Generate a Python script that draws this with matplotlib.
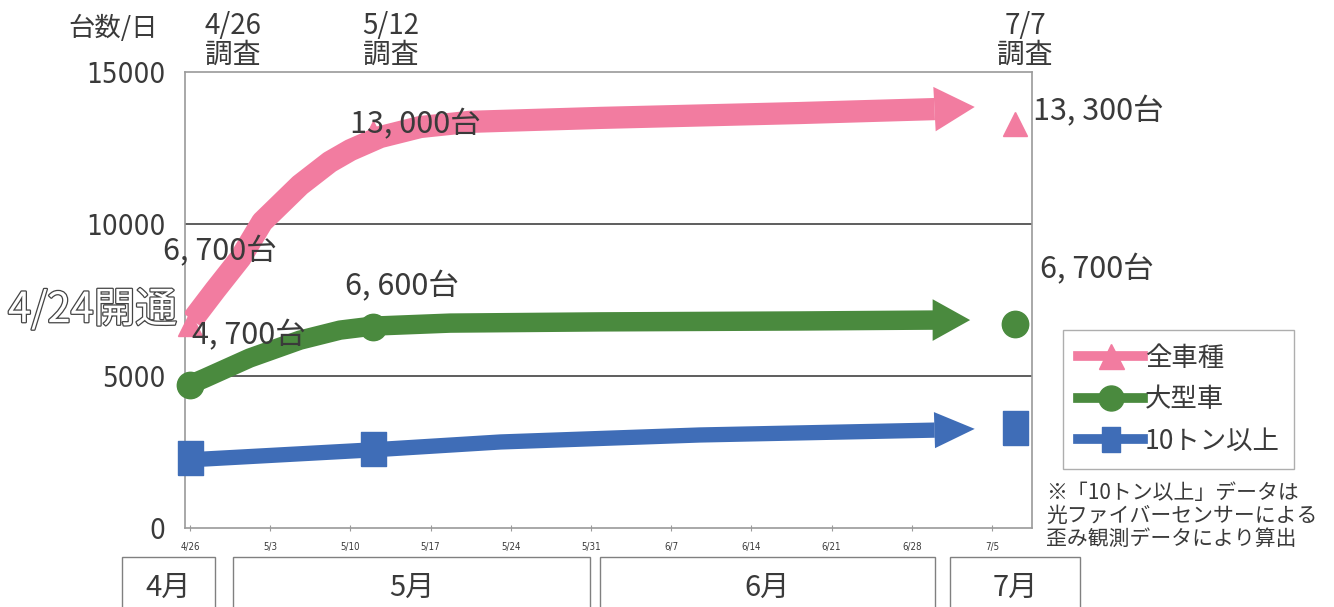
import matplotlib
matplotlib.use("Agg")
import matplotlib.pyplot as plt
import matplotlib.patheffects as pe
from matplotlib.patches import Rectangle
from matplotlib.lines import Line2D
from matplotlib import font_manager

JP = ['Noto Sans CJK JP', 'DejaVu Sans']
avail = {(f.name, f.stretch) for f in font_manager.fontManager.ttflist}
names = {f.name for f in font_manager.fontManager.ttflist}
if 'Liberation Sans Narrow' in names:
    NARROW = dict(family=['Liberation Sans Narrow'])
elif ('DejaVu Sans', 'condensed') in avail or ('DejaVu Sans', 'semi-condensed') in avail:
    NARROW = dict(family=['DejaVu Sans'], fontstretch='condensed')
else:
    NARROW = dict(family=['Liberation Sans'])
plt.rcParams['font.family'] = JP

# ---------------- data ----------------
series_names = ['全車種', '大型車', '10トン以上']
survey_days = [0, 16, 72]                       # days after 4/26 : 4/26, 5/12, 7/7
all_vehicles = [6700, 13000, 13300]
large_vehicles = [4700, 6600, 6700]
over10t = [2300, 2600, 3300]

# hand-drawn trend arrows
pink_days = [0.2, 2.2, 4.4, 6.3, 9.6, 12.2, 14.0, 16.6, 20.1, 24.4, 35.8, 53.2, 65.0]
pink_vals = [6840, 7830, 8880, 10070, 11280, 12040, 12430, 12860, 13190, 13360, 13490, 13650, 13780]
pink_tip = (68.5, 13850)
green_days = [0.5, 1.3, 5.2, 9.6, 13.1, 15.9, 22.7, 35.8, 53.2, 65.0]
green_vals = [4800, 4930, 5590, 6180, 6510, 6640, 6740, 6780, 6810, 6840]
green_tip = (68.1, 6840)
blue_days = [0.5, 1.3, 15.9, 27.1, 44.5, 65.0]
blue_vals = [2260, 2270, 2570, 2830, 3060, 3220]
blue_tip = (68.5, 3260)

xtick_days = [0, 7, 14, 21, 28, 35, 42, 49, 56, 63, 70]
xtick_labels = ['4/26', '5/3', '5/10', '5/17', '5/24', '5/31', '6/7', '6/14', '6/21', '6/28', '7/5']
ytick_vals = [0, 5000, 10000, 15000]

months = ['4月', '5月', '6月', '7月']

PINK = '#F27CA0'
GREEN = '#4A8A3E'
BLUE = '#3F6DB7'
TXT = '#3a3a3a'

W, H = 1334, 607
fig = plt.figure(figsize=(W / 100, H / 100), dpi=100)
ax = fig.add_axes([185 / W, 1 - 528 / H, (1032 - 185) / W, (528 - 72) / H])
ax.set_xlim(-0.44, 73.5)
ax.set_ylim(0, 15000)

# grid lines
for v in [5000, 10000]:
    ax.axhline(v, color='#505050', lw=1.3, zorder=1)
for s in ax.spines.values():
    s.set_color('#9a9a9a')
    s.set_linewidth(1.2)

ax.set_yticks(ytick_vals)
ax.set_yticklabels([str(v) for v in ytick_vals], fontsize=20, color=TXT, **NARROW)
ax.tick_params(axis='y', length=0, pad=14)
ax.set_xticks(xtick_days)
ax.set_xticklabels(xtick_labels, fontsize=7, color=TXT, **NARROW)
ax.tick_params(axis='x', length=4, direction='inout', color='#9a9a9a', pad=8)


def trend(days, vals, tip, color, lw, hw, hl):
    ax.plot(days, vals, color=color, lw=lw, solid_capstyle='butt', solid_joinstyle='round', zorder=3)
    ax.annotate('', xy=tip, xytext=(days[-1], vals[-1]),
                arrowprops=dict(arrowstyle='-|>,head_width=%f,head_length=%f' % (hw, hl),
                                color=color, lw=0, mutation_scale=1, shrinkA=0, shrinkB=0),
                zorder=3)
    ax.plot([days[-1], days[-1] + 0.8], [vals[-1], vals[-1]], color=color, lw=lw,
            solid_capstyle='butt', zorder=3)


trend(pink_days, pink_vals, pink_tip, PINK, 16, 16, 29)
trend(green_days, green_vals, green_tip, GREEN, 14, 15, 27)
trend(blue_days, blue_vals, blue_tip, BLUE, 11, 13, 29)

rect_marker = [(-0.75, -1), (0.75, -1), (0.75, 1), (-0.75, 1), (-0.75, -1)]
ax.plot(survey_days, all_vehicles, ls='none', marker='^', ms=17, color=PINK, zorder=4, clip_on=False)
ax.plot(survey_days, large_vehicles, ls='none', marker='o', ms=19, color=GREEN, zorder=4, clip_on=False)
ax.plot(survey_days, over10t, ls='none', marker=rect_marker, ms=24, color=BLUE, zorder=4, clip_on=False)


def ftx(x, y):
    return (x / W, 1 - y / H)


lab = dict(fontsize=22, color=TXT, va='center', ha='left', zorder=6)
fig.text(*ftx(350, 125), '13, 000台', **lab)
fig.text(*ftx(163, 252), '6, 700台', **lab)
fig.text(*ftx(192, 336), '4, 700台', **lab)
fig.text(*ftx(345, 287), '6, 600台', **lab)
fig.text(*ftx(1033, 112), '13, 300台', **lab)
fig.text(*ftx(1040, 270), '6, 700台', **lab)

fig.text(*ftx(8, 310), '4/24開通', fontsize=30, color='white', va='center', ha='left', zorder=7,
         path_effects=[pe.withStroke(linewidth=1.8, foreground='#444444')])

fig.text(*ftx(68, 28), '台数/日', fontsize=19, color=TXT, va='center', ha='left')
for cx, s in [(233, '4/26\n調査'), (391, '5/12\n調査'), (1025, '7/7\n調査')]:
    fig.text(*ftx(cx, 40), s, fontsize=20, color=TXT, va='center', ha='center', linespacing=0.95)

# month boxes
month_boxes = [(122, 215), (233, 590), (600, 935), (950, 1080)]
for (x0, x1), m in zip(month_boxes, months):
    fig.patches.append(Rectangle((x0 / W, -0.05), (x1 - x0) / W, 0.05 + (607 - 557) / H,
                                 transform=fig.transFigure, fill=False, ec='#808080', lw=1.0))
    fig.text(*ftx((x0 + x1) / 2, 588), m, fontsize=21, color=TXT, ha='center', va='center')

# legend
handles = [
    Line2D([], [], color=PINK, lw=7, marker='^', ms=18),
    Line2D([], [], color=GREEN, lw=7, marker='o', ms=18),
    Line2D([], [], color=BLUE, lw=7, marker=rect_marker, ms=18),
]
leg = fig.legend(handles, series_names, loc='upper left', bbox_to_anchor=(1063 / W, 1 - 330 / H),
                 frameon=True, fancybox=False, fontsize=19, handlelength=2.5, handletextpad=0.05,
                 labelspacing=0.55, borderpad=0.55, numpoints=1, borderaxespad=0)
leg.get_frame().set_edgecolor('#9a9a9a')
leg.get_frame().set_linewidth(1.0)
for t in leg.get_texts():
    t.set_color(TXT)

fig.text(*ftx(1046, 516), '※「10トン以上」データは\n光ファイバーセンサーによる\n歪み観測データにより算出',
         fontsize=15, color=TXT, va='center', ha='left', linespacing=1.05)

fig.savefig('out.png', dpi=100)
